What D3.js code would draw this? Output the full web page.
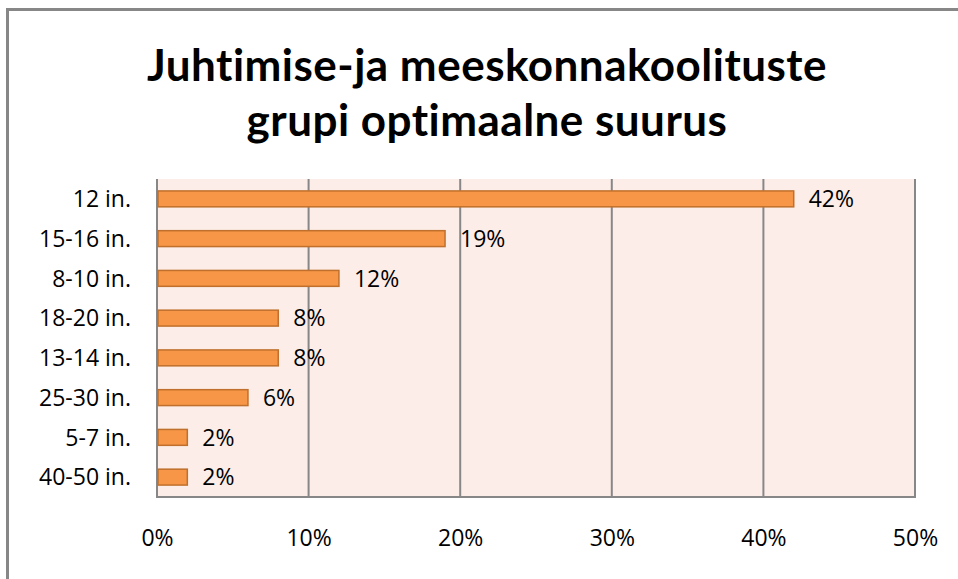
<!DOCTYPE html>
<html>
<head>
<meta charset="utf-8">
<script src="https://cdn.jsdelivr.net/npm/d3@7"></script>
<style>
  body { margin: 0; background: #fff; }
  svg { display: block; }
  text { font-variant-ligatures: none; }
</style>
</head>
<body>
<div id="chart"></div>
<script>
// data
var categories = ["12 in.", "15-16 in.", "8-10 in.", "18-20 in.", "13-14 in.", "25-30 in.", "5-7 in.", "40-50 in."];
var values = [42, 19, 12, 8, 8, 6, 2, 2];
var tickValues = [0, 10, 20, 30, 40, 50];
var titleLines = ["Juhtimise-ja meeskonnakoolituste", "grupi optimaalne suurus"];

var W = 958, H = 579;
var plot = { left: 157, right: 915, top: 179, bottom: 497 };
var labelFont = "'Open Sans', sans-serif";

var svg = d3.select("#chart").append("svg")
	.attr("width", W)
	.attr("height", H);

// outer chart border (cut off at right and bottom)
svg.append("rect")
	.attr("x", 7.5).attr("y", 9.5)
	.attr("width", 1100).attr("height", 800)
	.style("fill", "#fff")
	.style("stroke", "#878787")
	.style("stroke-width", 3);

// title
var title = svg.append("g");
titleLines.forEach(function(line, i) {
	title.append("text")
		.attr("x", 487)
		.attr("y", 81 + i * 55)
		.attr("text-anchor", "middle")
		.style("font-family", "Lato, sans-serif")
		.style("font-weight", "bold")
		.style("font-size", "44px")
		.style("fill", "#000")
		.text(line);
});
// squeeze the letters so the first line has the width seen in the picture
var t0 = title.select("text").node();
var extra = (680 - t0.getComputedTextLength()) / titleLines[0].length;
title.selectAll("text").style("letter-spacing", extra + "px");

var x = d3.scaleLinear()
	.domain([0, 50])
	.range([plot.left, plot.right]);

var y = d3.scaleBand()
	.domain(categories)
	.range([plot.top, plot.bottom])
	.paddingInner(0.6)
	.paddingOuter(0.3);

// plot background
svg.append("rect")
	.attr("x", plot.left).attr("y", plot.top)
	.attr("width", plot.right - plot.left)
	.attr("height", plot.bottom - plot.top)
	.style("fill", "#fcede8");

// gridlines
svg.selectAll("line.grid")
	.data(tickValues)
	.enter().append("line")
	.attr("class", "grid")
	.attr("x1", function(d) { return x(d); })
	.attr("x2", function(d) { return x(d); })
	.attr("y1", plot.top)
	.attr("y2", plot.bottom)
	.style("stroke", "#878787")
	.style("stroke-width", 2);

svg.append("line")
	.attr("x1", plot.left - 1).attr("x2", plot.right + 1)
	.attr("y1", plot.bottom).attr("y2", plot.bottom)
	.style("stroke", "#878787")
	.style("stroke-width", 2);

// bars
svg.selectAll("rect.bar")
	.data(values)
	.enter().append("rect")
	.attr("class", "bar")
	.attr("x", x(0) + 1)
	.attr("y", function(d, i) { return y(categories[i]); })
	.attr("width", function(d) { return x(d) - x(0) - 1; })
	.attr("height", y.bandwidth())
	.style("fill", "#f79646")
	.style("stroke", "#c0702c")
	.style("stroke-width", 1.5);

// value labels
svg.selectAll("text.val")
	.data(values)
	.enter().append("text")
	.attr("class", "val")
	.attr("x", function(d) { return x(d) + 15; })
	.attr("y", function(d, i) { return y(categories[i]) + y.bandwidth() / 2; })
	.attr("dy", "0.36em")
	.style("font-family", labelFont)
	.style("font-size", "23px")
	.style("fill", "#000")
	.text(function(d) { return d + "%"; });

// category axis
var yAxis = svg.append("g")
	.attr("transform", "translate(" + (plot.left - 26) + ",0)")
	.call(d3.axisLeft(y).tickSize(0).tickPadding(0));
yAxis.select(".domain").remove();
yAxis.selectAll("text")
	.attr("dy", "0.36em")
	.style("font-family", labelFont)
	.style("font-size", "23px")
	.style("fill", "#000");

// value axis
var xAxis = svg.append("g")
	.attr("transform", "translate(0," + (plot.bottom + 32) + ")")
	.call(d3.axisBottom(x).tickValues(tickValues).tickSize(0).tickPadding(0)
		.tickFormat(function(d) { return d + "%"; }));
xAxis.select(".domain").remove();
xAxis.selectAll("text")
	.attr("dy", "0.75em")
	.style("font-family", labelFont)
	.style("font-size", "23px")
	.style("fill", "#000");
</script>
</body>
</html>
